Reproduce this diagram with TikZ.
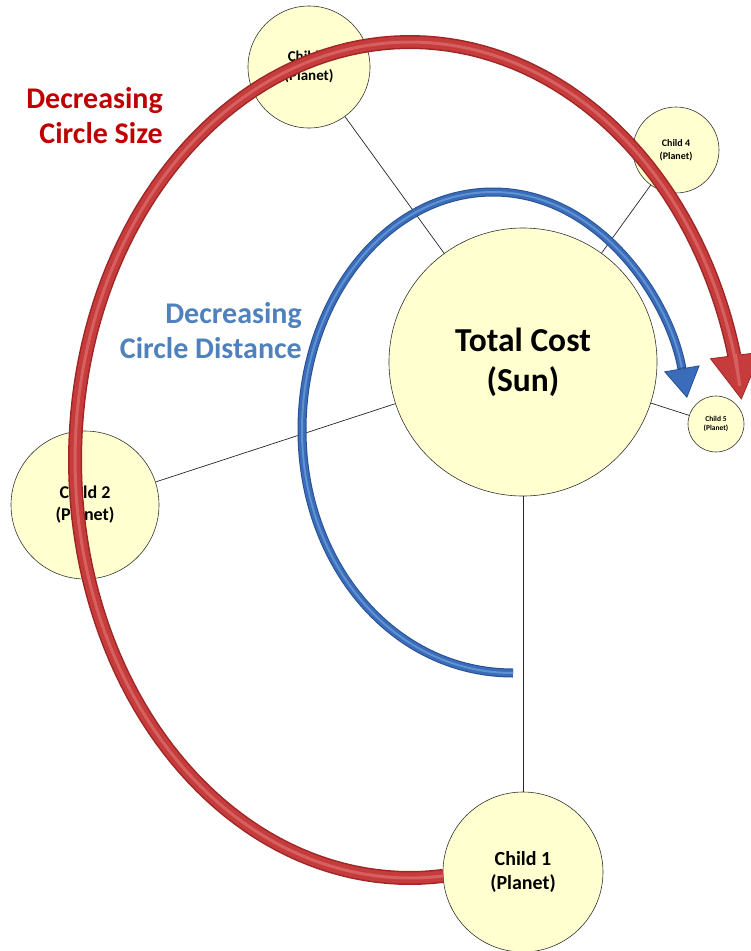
\documentclass[tikz,border=0pt]{standalone}
\usepackage{fontspec}
\setmainfont{Carlito}
\usetikzlibrary{arrows.meta}
\definecolor{sunfill}{RGB}{255,255,208}
\definecolor{redmain}{RGB}{198,60,60}
\definecolor{reddark}{RGB}{160,38,38}
\definecolor{redlight}{RGB}{214,96,96}
\definecolor{bluemain}{RGB}{58,108,186}
\definecolor{bluedark}{RGB}{38,80,148}
\definecolor{bluelight}{RGB}{96,146,210}
\definecolor{redtext}{RGB}{192,0,0}
\definecolor{bluetext}{RGB}{79,129,189}
\tikzset{
  planet/.style={circle, draw=black!80, line width=0.6pt, fill=sunfill, inner sep=0pt, align=center},
  link/.style={draw=black!85, line width=0.7pt},
  redouter/.style={draw=reddark, line width=14pt, line cap=butt,
    -{Triangle[width=52pt,length=45pt,fill=redmain,color=reddark,line width=0.8pt]}},
  redinner/.style={draw=redmain, line width=11pt, line cap=butt, shorten >=46pt},
  redshine/.style={draw=redlight, line width=3pt, line cap=butt, shorten >=46pt},
  blueouter/.style={draw=bluedark, line width=9pt, line cap=butt,
    -{Triangle[width=36pt,length=30pt,fill=bluemain,color=bluedark,line width=0.8pt]}},
  blueinner/.style={draw=bluemain, line width=7pt, line cap=butt, shorten >=31pt},
  blueshine/.style={draw=bluelight, line width=2pt, line cap=butt, shorten >=31pt},
  label/.style={inner sep=0pt, align=right, anchor=north east, font=\fontsize{30}{35}\selectfont\bfseries}
}
\begin{document}
\begin{tikzpicture}[x=1pt,y=-1pt]
\useasboundingbox[fill=white] (0,0) rectangle (751,951);

\node[planet, minimum size=268pt, font=\fontsize{33.5}{40}\selectfont\bfseries] (sun) at (523,362) {Total Cost\\(Sun)};
\node[planet, minimum size=160pt, font=\fontsize{20}{24}\selectfont\bfseries] (c1) at (523,872) {Child 1\\(Planet)};
\node[planet, minimum size=148pt, font=\fontsize{18}{22}\selectfont\bfseries] (c2) at (85,505) {Child 2\\(Planet)};
\node[planet, minimum size=122pt, font=\fontsize{15}{19}\selectfont\bfseries] (c3) at (309,67) {Child 3\\(Planet)};
\node[planet, minimum size=86pt, font=\fontsize{10}{13}\selectfont\bfseries] (c4) at (676,150) {Child 4\\(Planet)};
\node[planet, minimum size=56pt, font=\fontsize{7.5}{9.5}\selectfont\bfseries] (c5) at (716,424) {Child 5\\(Planet)};

\draw[link] (sun) -- (c1);
\draw[link] (sun) -- (c2);
\draw[link] (sun) -- (c3);
\draw[link] (sun) -- (c4);
\draw[link] (sun) -- (c5);

% blue arrow: decreasing circle distance
\foreach \s in {blueouter, blueinner, blueshine}
  \draw[\s] (513,673) .. controls (393,673) and (302,564) .. (302,430)
            .. controls (302,298) and (388,192) .. (493,192)
            .. controls (599,192) and (670,300) .. (687,398);

% red arrow: decreasing circle size
\foreach \s in {redouter, redinner, redshine}
  \draw[\s] plot[domain=84.3:351.7, samples=140, variable=\t] ({410+335*cos(\t)},{460+418*sin(\t)});

\node[label, text=redtext] (lblsize) at (163,87) {Decreasing\\Circle Size};
\node[label, text=bluetext] (lbldist) at (302,302) {Decreasing\\Circle Distance};
\end{tikzpicture}
\end{document}
